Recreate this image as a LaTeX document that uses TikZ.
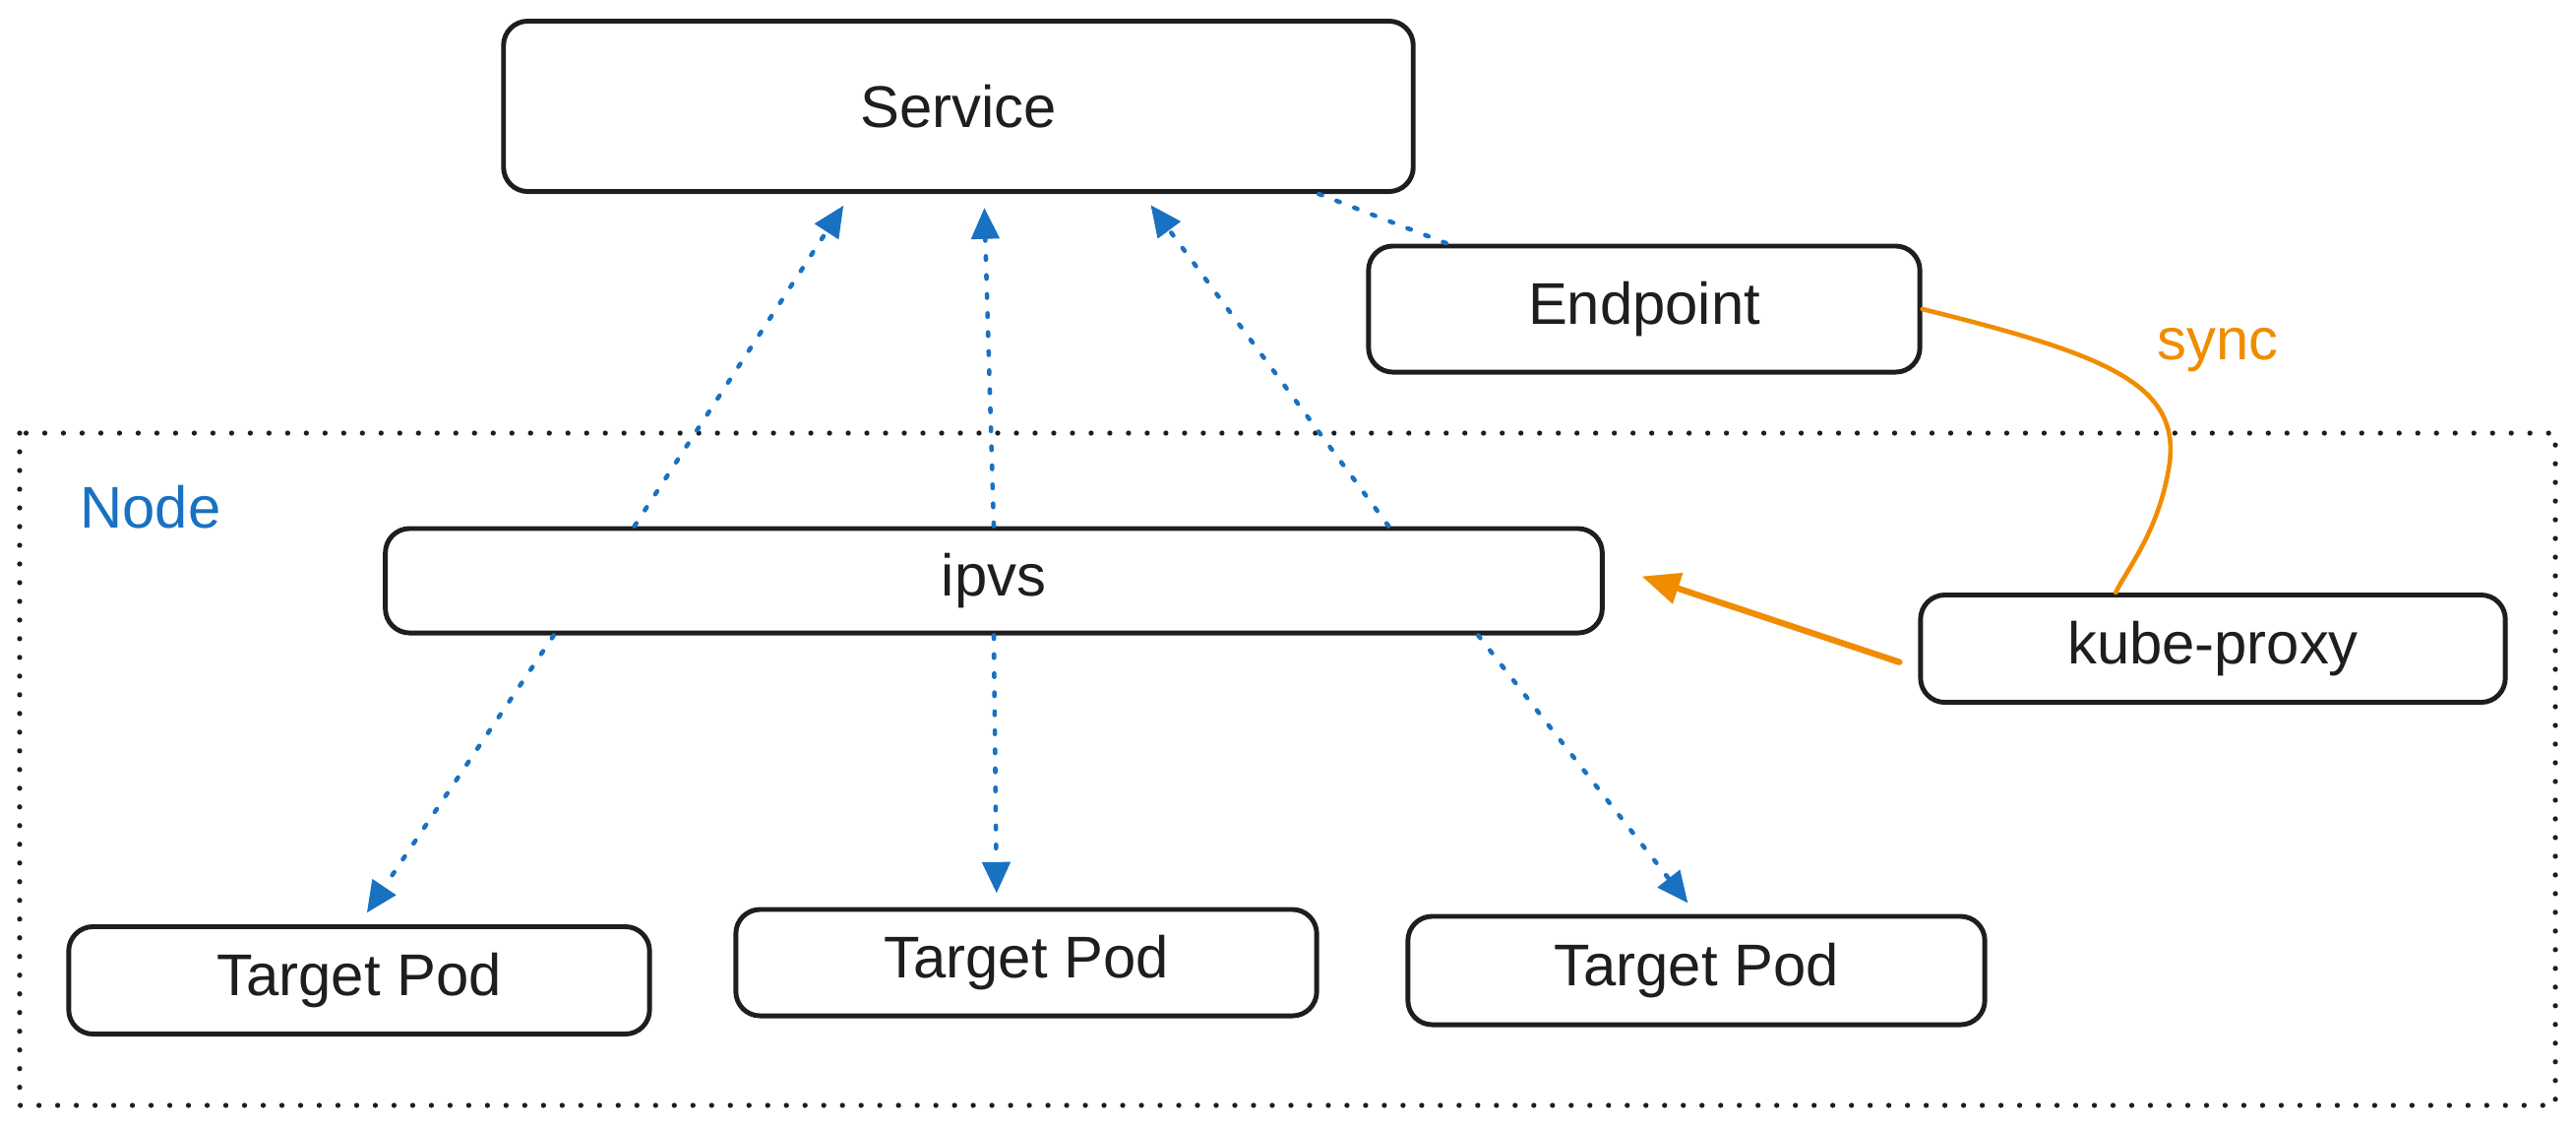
\documentclass[tikz,border=0pt]{standalone}
\usepackage{fontspec}
\setmainfont{Liberation Sans}
\usetikzlibrary{arrows.meta}
\definecolor{xblue}{HTML}{1971C2}
\definecolor{xorange}{HTML}{F08C00}
\definecolor{xink}{HTML}{1E1E1E}
\begin{document}
\begin{tikzpicture}[x=0.01cm, y=-0.01cm, font=\fontsize{17}{20}\selectfont, line join=round, line cap=round,
	box/.style={draw=xink, text=xink, line width=1.4pt, rounded corners=7pt, fill=white},
	flow/.style={draw=xblue, line width=1.3pt, dash pattern=on 1pt off 4.5pt},
	flowarrow/.style={flow, -{Triangle[length=9pt,width=8pt]}, shorten >=4pt},
	push/.style={draw=xorange, line width=1.8pt, -{Triangle[length=11pt,width=9pt]}},
	syncline/.style={draw=xorange, line width=1.3pt},
	frame/.style={draw=xink, line width=1.5pt, dash pattern=on 0pt off 5.4pt}]
	\useasboundingbox (0,0) rectangle (2618,1144);
	% node frame
	\draw[frame] (20,440) rectangle (2597,1123);
	\node[xblue] (nodelbl) at (153,515) {Node};
	% boxes
	\node[box, minimum width=9.24cm, minimum height=1.73cm] (svc) at (974,108) {Service};
	\node[box, minimum width=5.6cm, minimum height=1.28cm] (ep) at (1671,314) {Endpoint};
	\node[box, minimum width=12.36cm, minimum height=1.06cm] (ipvs) at (1010,590) {ipvs};
	\node[box, minimum width=5.94cm, minimum height=1.09cm] (kp) at (2249,659) {kube-proxy};
	\node[box, minimum width=5.9cm, minimum height=1.09cm] (podA) at (365,996) {Target Pod};
	\node[box, minimum width=5.9cm, minimum height=1.08cm] (podB) at (1043,978) {Target Pod};
	\node[box, minimum width=5.86cm, minimum height=1.1cm] (podC) at (1724,986) {Target Pod};
	% ipvs -> service
	\draw[flowarrow] ([xshift=-3.65cm]ipvs.north)--([xshift=-1.09cm]svc.south);
	\draw[flowarrow] (ipvs.north)--([xshift=0.26cm]svc.south);
	\draw[flowarrow] ([xshift=4.01cm]ipvs.north)--([xshift=1.87cm]svc.south);
	\draw[flow] ([xshift=3.66cm]svc.south)--([xshift=-2cm]ep.north);
	% ipvs -> pods
	\draw[flowarrow] ([xshift=-4.47cm]ipvs.south)--(podA.north);
	\draw[flowarrow] (ipvs.south)--([xshift=-0.3cm]podB.north);
	\draw[flowarrow] ([xshift=4.92cm]ipvs.south)--(podC.north);
	% kube-proxy
	\draw[push, shorten <=5.7pt, shorten >=11.3pt] ([yshift=-0.2cm]kp.west)--([yshift=0.17cm]ipvs.east);
	\draw[syncline] (ep.east) .. controls (2140,360) and (2215,390) .. (2205,470) .. controls (2195,540) and (2160,580) .. (kp.150);
	\node[xorange] (synclbl) at (2254,356) {sync};
\end{tikzpicture}
\end{document}
